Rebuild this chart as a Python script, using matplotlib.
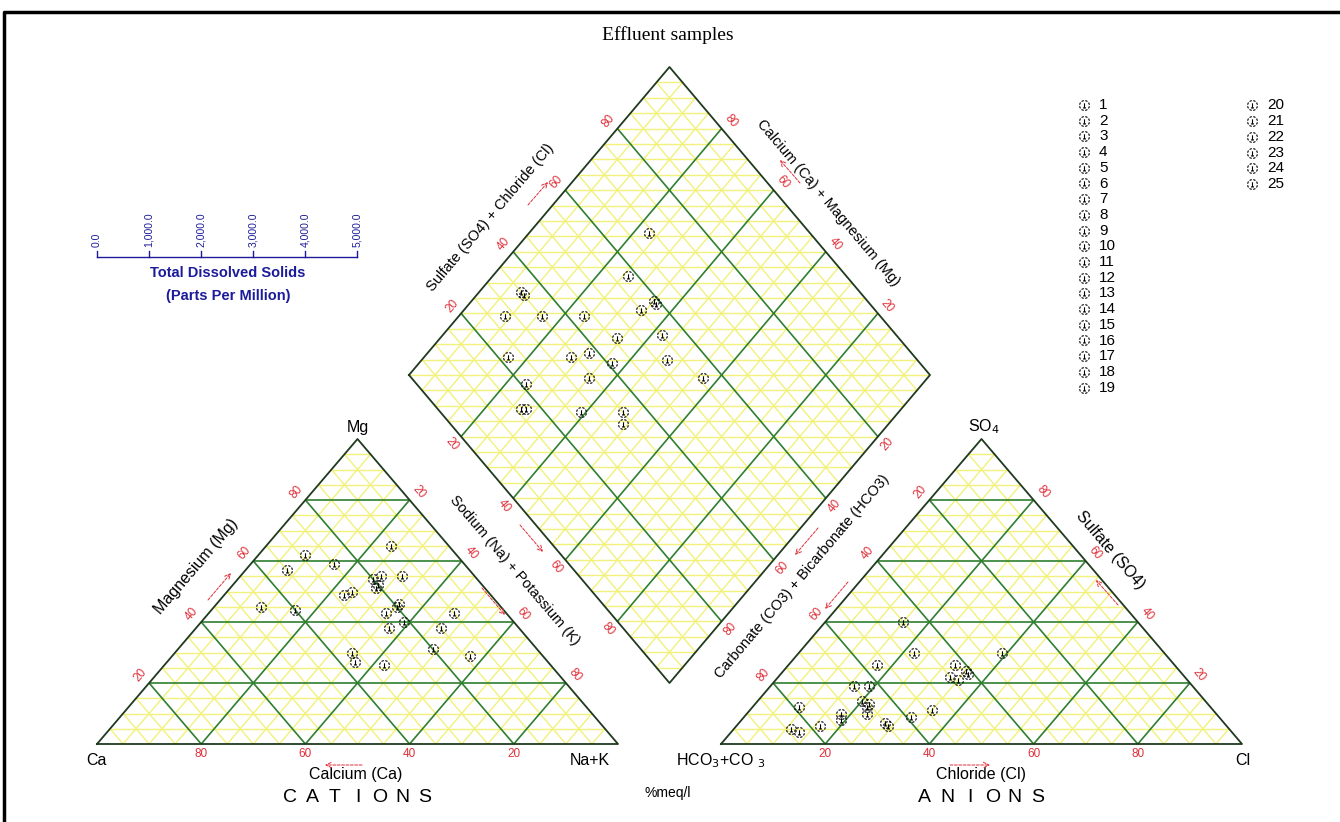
import matplotlib
matplotlib.use("Agg")
import matplotlib.pyplot as plt
import numpy as np
from matplotlib.path import Path

plt.rcParams["font.family"] = ["Liberation Sans", "DejaVu Sans"]

# Effluent samples, ionic composition in % meq/l
samples = list(range(1, 26))
ca = [28, 20, 35, 46, 26, 23, 37, 29, 40, 36, 32, 15, 14, 20, 25, 25, 19, 14, 11, 18, 21, 10, 20, 20, 21]
mg = [49, 54, 57, 45, 50, 43, 27, 62, 44, 30, 26, 38, 55, 52, 38, 59, 46, 29, 65, 55, 40, 43, 31, 45, 51]
cl = [39, 32, 29, 22, 17, 33, 36, 18, 16, 35, 15, 22, 19, 20, 32, 16, 22, 35, 9, 11, 19, 28, 23, 35, 13]
so4 = [30, 26, 6, 13, 26, 22, 23, 10, 19, 11, 40, 30, 19, 14, 9, 6, 12, 21, 12, 5, 8, 7, 10, 24, 4]

tick_values = [20, 40, 60, 80]
tds_ticks = [0, 1000, 2000, 3000, 4000, 5000]
tds_labels = ["0.0", "1,000.0", "2,000.0", "3,000.0", "4,000.0", "5,000.0"]

# layout of the piper plot on a pixel canvas
W, H = 1340, 822
TRI_SIDE, TRI_H = 521.0, 305.0
BASE_Y = 744.0
CAT_X0, AN_X0 = 97.0, 721.0
DIA_BX, DIA_BY = 669.5, 683.0
DIA_HW, DIA_HH = 260.5, 308.0

YELLOW = "#f1f17c"
GREEN = "#2f7f2f"
EDGE = "#1f3a1f"
RED = "#e0303a"
BLUE = "#1c1c9a"
TRI_ANG = np.degrees(np.arctan2(TRI_H, TRI_SIDE / 2))
DIA_ANG = np.degrees(np.arctan2(DIA_HH, DIA_HW))


def tri_xy(x0, right, top):
    # right = fraction of the right corner, top = fraction of the apex
    right = np.asarray(right, dtype=float)
    top = np.asarray(top, dtype=float)
    return x0 + (right + top / 2) * TRI_SIDE, BASE_Y - top * TRI_H


def dia_xy(a, n):
    # a = SO4+Cl fraction, n = Na+K fraction
    a = np.asarray(a, dtype=float)
    n = np.asarray(n, dtype=float)
    lx, ly = DIA_BX - DIA_HW, DIA_BY - DIA_HH
    return lx + (a + n) * DIA_HW, ly + (n - a) * DIA_HH


def seg(ax, p, q, color, lw, z):
    ax.plot([p[0], q[0]], [p[1], q[1]], color=color, lw=lw, zorder=z,
            solid_capstyle="butt")


def draw_triangle(ax, x0):
    A = np.array(tri_xy(x0, 0, 0))
    B = np.array(tri_xy(x0, 1, 0))
    C = np.array(tri_xy(x0, 0, 1))
    for k in range(5, 100, 5):
        f = k / 100
        major = k % 20 == 0
        color, lw, z = (GREEN, 1.2, 2) if major else (YELLOW, 1.0, 1)
        seg(ax, A + f * (C - A), B + f * (C - B), color, lw, z)
        seg(ax, A + f * (B - A), C + f * (B - C), color, lw, z)
        seg(ax, B + f * (A - B), C + f * (A - C), color, lw, z)
    ax.plot([A[0], B[0], C[0], A[0]], [A[1], B[1], C[1], A[1]],
            color=EDGE, lw=1.3, zorder=3)


def draw_diamond(ax):
    for k in range(5, 100, 5):
        f = k / 100
        major = k % 20 == 0
        color, lw, z = (GREEN, 1.2, 2) if major else (YELLOW, 1.0, 1)
        seg(ax, dia_xy(f, 0), dia_xy(f, 1), color, lw, z)
        seg(ax, dia_xy(0, f), dia_xy(1, f), color, lw, z)
    for k in range(-95, 100, 5):
        d = k / 100
        a0, a1 = (0, 1 - d) if d >= 0 else (-d, 1)
        seg(ax, dia_xy(a0, a0 + d), dia_xy(a1, a1 + d), YELLOW, 1.0, 1)
    corners = [dia_xy(0, 0), dia_xy(1, 0), dia_xy(1, 1), dia_xy(0, 1), dia_xy(0, 0)]
    ax.plot([c[0] for c in corners], [c[1] for c in corners],
            color=EDGE, lw=1.3, zorder=3)


def tick_label(ax, xy, off, text, rot):
    ax.text(xy[0] + off[0], xy[1] + off[1], text, color=RED, fontsize=8.5,
            rotation=rot, ha="center", va="center", rotation_mode="anchor")


def red_arrow(ax, start, end):
    ax.annotate("", xy=end, xytext=start,
                arrowprops=dict(arrowstyle="->", color=RED, lw=0.7,
                                linestyle=(0, (3, 1.5)), shrinkA=0, shrinkB=0))


def sample_marker():
    arcs = [Path.arc(a0 + 8, a0 + 36) for a0 in range(0, 360, 45)]
    stem = Path([(0, -0.5), (0, 0.45)], [Path.MOVETO, Path.LINETO])
    foot = Path([(-0.3, -0.5), (0.3, -0.5)], [Path.MOVETO, Path.LINETO])
    return Path.make_compound_path(*arcs, stem, foot)


fig = plt.figure(figsize=(W / 100, H / 100), dpi=100)
ax = fig.add_axes([0, 0, 1, 1])
ax.set_xlim(0, W)
ax.set_ylim(H, 0)
ax.axis("off")

# frame
ax.plot([4, 4, W], [H, 12, 12], color="black", lw=2.5, zorder=10)

ax.text(668, 35, "Effluent samples", family=["Liberation Serif", "DejaVu Serif"],
        fontsize=14, ha="center", va="center")

draw_triangle(ax, CAT_X0)
draw_triangle(ax, AN_X0)
draw_diamond(ax)

nl = np.hypot(TRI_H, TRI_SIDE / 2)
nx, ny = TRI_H / nl, (TRI_SIDE / 2) / nl
off = 12
for v in tick_values:
    f = v / 100
    # cations
    tick_label(ax, tri_xy(CAT_X0, 1 - f, 0), (0, 10), str(v), 0)
    tick_label(ax, tri_xy(CAT_X0, 0, f), (-off * nx, -off * ny), str(v), TRI_ANG)
    tick_label(ax, tri_xy(CAT_X0, f, 1 - f), (off * nx, -off * ny), str(v), -TRI_ANG)
    # anions
    tick_label(ax, tri_xy(AN_X0, f, 0), (0, 10), str(v), 0)
    tick_label(ax, tri_xy(AN_X0, 0, 1 - f), (-off * nx, -off * ny), str(v), TRI_ANG)
    tick_label(ax, tri_xy(AN_X0, 1 - f, f), (off * nx, -off * ny), str(v), -TRI_ANG)
    # diamond
    tick_label(ax, dia_xy(f, 0), (-off * nx, -off * ny), str(v), DIA_ANG)
    tick_label(ax, dia_xy(1, 1 - f), (off * nx, -off * ny), str(v), -DIA_ANG)
    tick_label(ax, dia_xy(0, f), (-off * nx, off * ny), str(v), -DIA_ANG)
    tick_label(ax, dia_xy(1 - f, 1), (off * nx, off * ny), str(v), DIA_ANG)

# corner and axis names
lab = dict(fontsize=11.5, ha="center", va="center")
side = dict(fontsize=10.5, ha="center", va="center")
ax.text(357.5, 427, "Mg", **lab)
ax.text(96, 760, "Ca", **lab)
ax.text(590, 760, "Na+K", **lab)
ax.text(356, 774, "Calcium (Ca)", **lab)
ax.text(984, 427, "SO$_4$", **lab)
ax.text(721, 761, "HCO$_3$+CO $_3$", **lab)
ax.text(1243, 760, "Cl", **lab)
ax.text(981, 774, "Chloride (Cl)", **lab)
ax.text(668, 793, "%meq/l", fontsize=10, ha="center", va="center")

ax.text(196, 566, "Magnesium (Mg)", rotation=TRI_ANG, **lab)
ax.text(515, 570, "Sodium (Na) + Potassium (K)", rotation=-TRI_ANG, **side)
ax.text(1110, 550, "Sulfate (SO4)", rotation=-TRI_ANG, **lab)
ax.text(802, 577, "Carbonate (CO3) + Bicarbonate (HCO3)", rotation=DIA_ANG, **side)
ax.text(490, 218, "Sulfate (SO4) + Chloride (Cl)", rotation=DIA_ANG, **side)
ax.text(828, 203, "Calcium (Ca) + Magnesium (Mg)", rotation=-DIA_ANG, **side)

for word, cx in (("CATIONS", 357.5), ("ANIONS", 981)):
    n = len(word)
    for i, ch in enumerate(word):
        ax.text(cx + (i - (n - 1) / 2) * 22.5, 797, ch, fontsize=14,
                ha="center", va="center")

# direction arrows
red_arrow(ax, (362, 765), (325, 765))
red_arrow(ax, (208, 600), (231, 573))
red_arrow(ax, (482, 588), (505, 615))
red_arrow(ax, (950, 765), (990, 765))
red_arrow(ax, (1118, 605), (1096, 580))
red_arrow(ax, (818, 528), (795, 555))
red_arrow(ax, (848, 582), (825, 609))
red_arrow(ax, (528, 205), (548, 182))
red_arrow(ax, (800, 183), (780, 160))
red_arrow(ax, (520, 525), (543, 552))

# total dissolved solids scale
tds_x = [97 + t / 5000 * 260 for t in tds_ticks]
ax.plot([tds_x[0], tds_x[-1]], [257, 257], color=BLUE, lw=1.0)
for x, t in zip(tds_x, tds_labels):
    ax.plot([x, x], [257, 251], color=BLUE, lw=1.0)
    ax.text(x, 247, t, rotation=90, fontsize=7.5, color=BLUE, ha="center", va="bottom")
ax.text(228, 273, "Total Dissolved Solids", fontsize=10.5, weight="bold",
        color=BLUE, ha="center", va="center")
ax.text(228, 296, "(Parts Per Million)", fontsize=10.5, weight="bold",
        color=BLUE, ha="center", va="center")

# sample points
mk = sample_marker()
ca_f = np.array(ca) / 100
mg_f = np.array(mg) / 100
cl_f = np.array(cl) / 100
so4_f = np.array(so4) / 100
nak_f = 1 - ca_f - mg_f
pt = dict(marker=mk, ms=7, mfc="none", mec="black", mew=0.8, ls="none", zorder=5)
ax.plot(*tri_xy(CAT_X0, nak_f, mg_f), **pt)
ax.plot(*tri_xy(AN_X0, cl_f, so4_f), **pt)
ax.plot(*dia_xy(cl_f + so4_f, nak_f), **pt)

# legend
for i, s in enumerate(samples):
    if s <= 19:
        lx, ly = 1084, 105 + i * 15.7
    else:
        lx, ly = 1252, 105 + (i - 19) * 15.85
    ax.plot(lx, ly, **pt)
    ax.text(lx + 15, ly, str(s), fontsize=11, ha="left", va="center")

fig.savefig("out.png", dpi=100)
